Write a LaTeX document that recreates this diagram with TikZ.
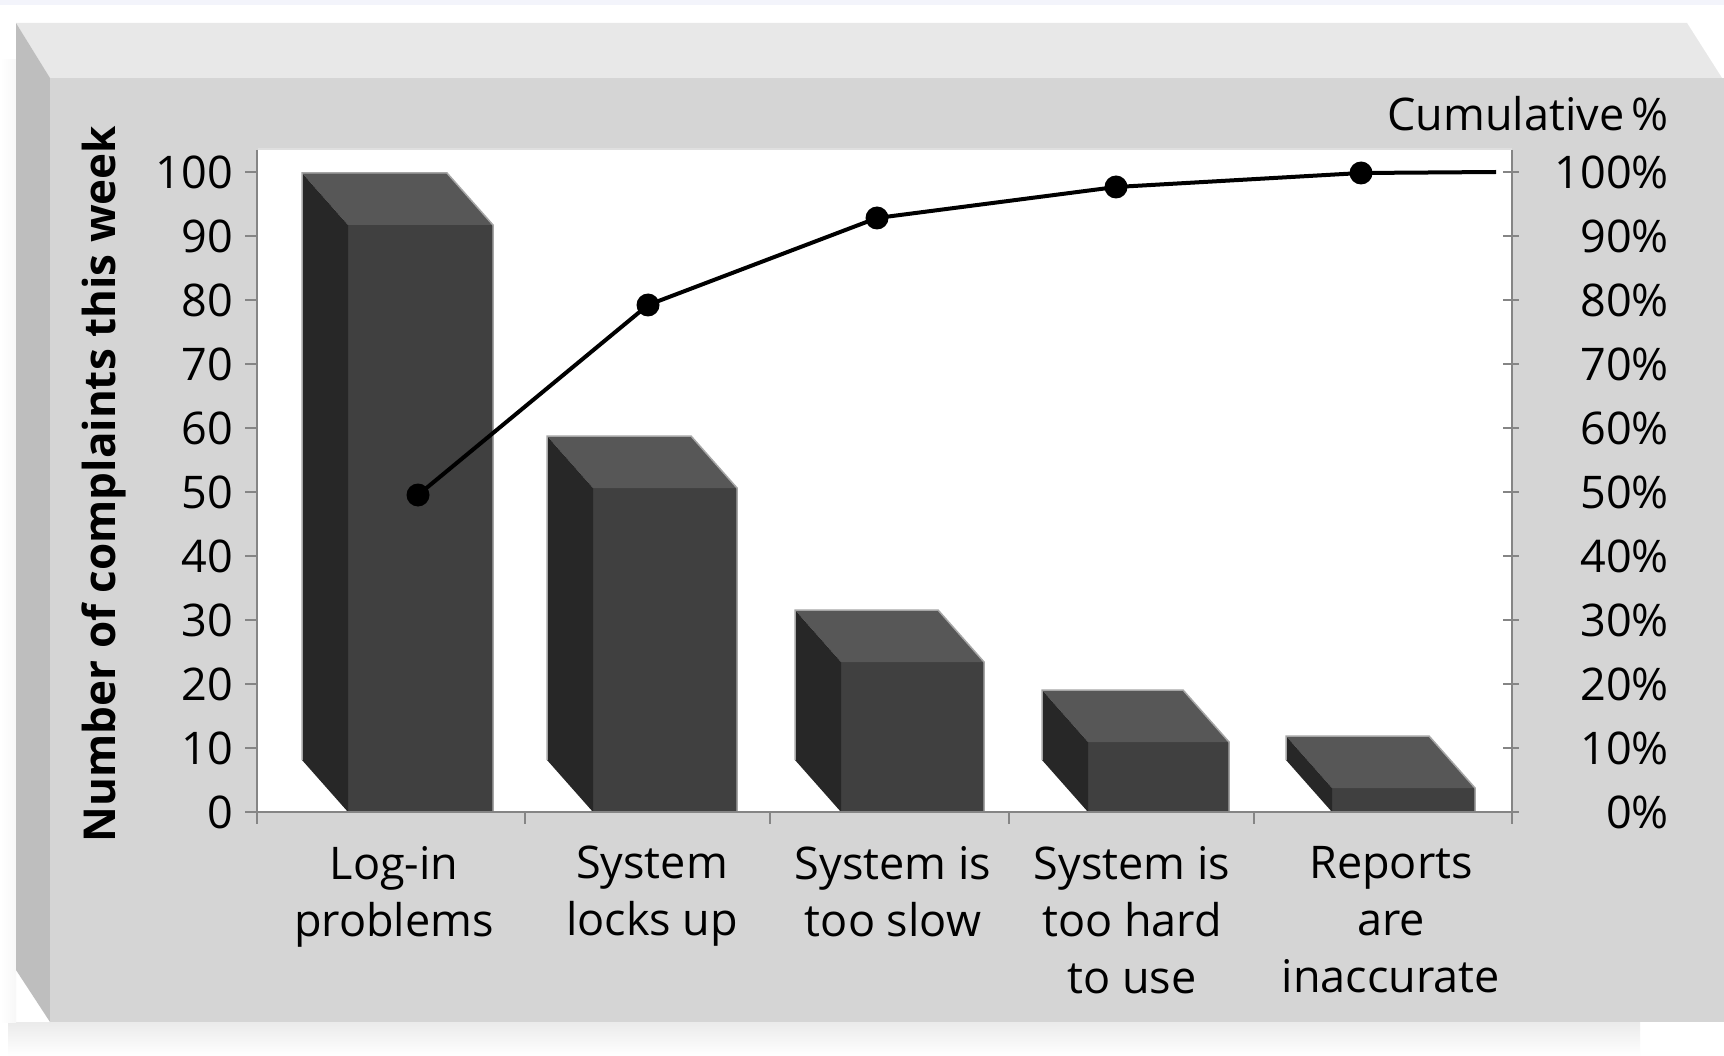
\documentclass[tikz,border=0pt]{standalone}
\usepackage{fontspec}
\setmainfont{Open Sans}
\definecolor{topstrip}{HTML}{F3F4FB}
\definecolor{panelfront}{HTML}{D5D5D5}
\definecolor{paneltop}{HTML}{E8E8E8}
\definecolor{panelleft}{HTML}{BEBEBE}
\definecolor{barfront}{HTML}{404040}
\definecolor{bartop}{HTML}{575757}
\definecolor{barside}{HTML}{272727}
\definecolor{axisgray}{HTML}{858585}
\newcommand\paretobar[3]{%
  \fill[barfront] (#1,#3) rectangle (#2,812);
  \fill[bartop] ({#1-46},{#3-52}) -- ({#2-46},{#3-52}) -- (#2,#3) -- (#1,#3) -- cycle;
  \fill[barside] ({#1-46},{#3-52}) -- (#1,#3) -- (#1,812) -- ({#1-46},760) -- cycle;
  \draw[baredge] ({#1-46},760) -- ({#1-46},{#3-52}) -- ({#2-46},{#3-52}) -- (#2,#3) -- (#2,812);
}
\begin{document}
\begin{tikzpicture}[x=1pt,y=-1pt,
  baredge/.style={draw=gray!70,line width=1.5pt},
  axisline/.style={draw=axisgray,line width=2.5pt},
  tickline/.style={draw=axisgray,line width=2.5pt},
  ticklab/.style={inner sep=0pt,font=\fontsize{45}{56}\selectfont},
  catlab/.style={inner sep=0pt,align=center,font=\fontsize{45}{57}\selectfont},
  dot/.style={circle,fill=black,inner sep=0pt,minimum size=23pt},
  cumline/.style={draw=black,line width=4pt}]
\useasboundingbox (0,0) rectangle (1724,1056);
% page
\fill[white] (0,0) rectangle (1724,1056);
\fill[topstrip] (0,0) rectangle (1724,5);
\shade[top color=gray!16,bottom color=white] (8,1022) rectangle (1640,1056);
\shade[left color=white,right color=gray!6] (0,60) rectangle (16,1022);
% panel
\fill[paneltop] (16,23) -- (1687,23) -- (1722,78) -- (50,78) -- cycle;
\fill[panelleft] (16,23) -- (50,78) -- (50,1022) -- (16,970) -- cycle;
\fill[panelfront] (50,78) rectangle (1724,1022);
% plot area
\fill[white] (258,150) rectangle (1512,812);
\draw[gray!25,line width=2pt] (258,149) -- (1512,149);
% bars
\paretobar{348}{493}{225}
\paretobar{593}{737}{488}
\paretobar{841}{984}{662}
\paretobar{1088}{1229}{742}
\paretobar{1332}{1475}{788}
% axes
\draw[axisline] (257,150) -- (257,824);
\draw[axisline] (1512,150) -- (1512,824);
\draw[axisline] (257,812) -- (1512,812);
\foreach \v in {0,10,...,100}{
  \draw[tickline] (245,{812-6.4*\v}) -- (257,{812-6.4*\v});
  \draw[tickline] (1503,{812-6.4*\v}) -- (1519,{812-6.4*\v});
  \node[ticklab,anchor=east] (l\v) at (233,{812-6.4*\v}) {\v};
  \node[ticklab,anchor=east] (r\v) at (1669,{812-6.4*\v}) {\v\%};
}
\foreach \x in {525,770,1009,1254}{
  \draw[tickline] (\x,812) -- (\x,824);
}
% titles
\node[ticklab,anchor=east] (cumtitle) at (1669,114) {Cumulative\,\%};
\node[inner sep=0pt,rotate=90,font=\fontsize{44}{56}\selectfont\bfseries] (ytitle) at (104,484) {Number of complaints this week};
% category labels
\node[catlab,anchor=north] (c1) at (394,846) {Log-in\\problems};
\node[catlab,anchor=north] (c2) at (652,846) {System\\locks up};
\node[catlab,anchor=north] (c3) at (893,846) {System is\\too slow};
\node[catlab,anchor=north] (c4) at (1132,846) {System is\\too hard\\to use};
\node[catlab,anchor=north] (c5) at (1391,846) {Reports\\are\\inaccurate};
% cumulative line
\node[dot] (p1) at (418,495) {};
\node[dot] (p2) at (648,305) {};
\node[dot] (p3) at (877,218) {};
\node[dot] (p4) at (1116,187) {};
\node[dot] (p5) at (1361,173) {};
\coordinate (pend) at (1496,172);
\draw[cumline] (p1.center) -- (p2.center) -- (p3.center) -- (p4.center) -- (p5.center) -- (pend);
\end{tikzpicture}
\end{document}
